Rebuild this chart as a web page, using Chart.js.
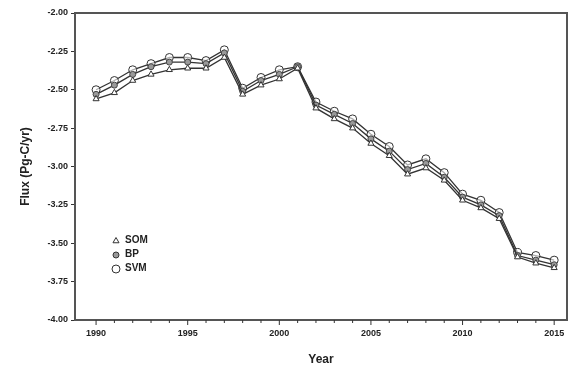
<!DOCTYPE html>
<html>
<head>
<meta charset="utf-8">
<script src="https://cdn.jsdelivr.net/npm/chart.js@4.4.1/dist/chart.umd.min.js"></script>
<style>
  html, body { margin: 0; padding: 0; background: #fff; }
  #wrap { width: 572px; height: 367px; }
</style>
</head>
<body>
<div id="wrap"><canvas id="fluxChart"></canvas></div>
<script>
// data
const years = [1990, 1991, 1992, 1993, 1994, 1995, 1996, 1997, 1998, 1999, 2000, 2001, 2002,
               2003, 2004, 2005, 2006, 2007, 2008, 2009, 2010, 2011, 2012, 2013, 2014, 2015];
const som = [-2.56, -2.52, -2.44, -2.40, -2.37, -2.36, -2.36, -2.29, -2.53, -2.47, -2.43, -2.36, -2.62,
             -2.69, -2.75, -2.85, -2.93, -3.05, -3.01, -3.09, -3.22, -3.27, -3.34, -3.59, -3.63, -3.66];
const bp  = [-2.53, -2.47, -2.40, -2.35, -2.32, -2.32, -2.33, -2.26, -2.51, -2.44, -2.40, -2.35, -2.60,
             -2.66, -2.72, -2.82, -2.90, -3.02, -2.98, -3.07, -3.20, -3.25, -3.32, -3.58, -3.61, -3.64];
const svm = [-2.50, -2.44, -2.37, -2.33, -2.29, -2.29, -2.31, -2.24, -2.49, -2.42, -2.37, -2.35, -2.58,
             -2.64, -2.69, -2.79, -2.87, -2.99, -2.95, -3.04, -3.18, -3.22, -3.30, -3.56, -3.58, -3.61];
const xTicks = [1990, 1995, 2000, 2005, 2010, 2015];
const yTicks = [-4.00, -3.75, -3.50, -3.25, -3.00, -2.75, -2.50, -2.25, -2.00];

const toXY = function(vals) {
    return vals.map(function(v, i) { return { x: years[i], y: v }; });
};

const FONT = "'Liberation Sans', Arial, sans-serif";

// box, minor ticks and in-plot legend
const framePlugin = {
    id: 'frame',
    afterDraw: function(chart) {
        const ctx = chart.ctx;
        const a = chart.chartArea;
        const xs = chart.scales.x;
        ctx.save();
        ctx.strokeStyle = '#555';
        ctx.lineWidth = 2;
        ctx.strokeRect(a.left, a.top, a.right - a.left, a.bottom - a.top);

        // yearly minor ticks
        ctx.lineWidth = 1;
        ctx.strokeStyle = '#333';
        years.forEach(function(yr) {
            const px = xs.getPixelForValue(yr);
            ctx.beginPath();
            ctx.moveTo(px, a.bottom);
            ctx.lineTo(px, a.bottom + (yr % 5 === 0 ? 5 : 3));
            ctx.stroke();
        });

        // legend
        const items = chart.data.datasets;
        let ly = 241;
        items.forEach(function(ds) {
            const lx = 116;
            ctx.lineWidth = 1;
            ctx.strokeStyle = ds.borderColor;
            ctx.fillStyle = ds.pointBackgroundColor;
            Chart.helpers.drawPoint(ctx, {
                pointStyle: ds.pointStyle,
                radius: ds.pointRadius,
                borderWidth: 1
            }, lx, ly);
            ctx.fillStyle = '#222';
            ctx.font = 'bold 10px ' + FONT;
            ctx.textAlign = 'left';
            ctx.textBaseline = 'middle';
            ctx.fillText(ds.label, lx + 9, ly - 1);
            ly += 14;
        });
        ctx.restore();
    }
};

new Chart(document.getElementById('fluxChart'), {
    type: 'line',
    data: {
        datasets: [
            {
                label: 'SOM',
                data: toXY(som),
                borderColor: '#333',
                borderWidth: 1.3,
                pointStyle: 'triangle',
                pointRadius: 3.5,
                pointBackgroundColor: '#fff',
                pointBorderColor: '#333',
                pointBorderWidth: 1
            },
            {
                label: 'BP',
                data: toXY(bp),
                borderColor: '#333',
                borderWidth: 1.3,
                pointStyle: 'circle',
                pointRadius: 3,
                pointBackgroundColor: '#999',
                pointBorderColor: '#444',
                pointBorderWidth: 1
            },
            {
                label: 'SVM',
                data: toXY(svm),
                borderColor: '#333',
                borderWidth: 1.3,
                pointStyle: 'circle',
                pointRadius: 4,
                pointBackgroundColor: 'rgba(255,255,255,0.6)',
                pointBorderColor: '#333',
                pointBorderWidth: 1
            }
        ]
    },
    options: {
        responsive: true,
        maintainAspectRatio: false,
        animation: false,
        layout: { padding: { top: 13, right: 4, left: 0, bottom: 0 } },
        plugins: {
            legend: { display: false },
            tooltip: { enabled: false }
        },
        scales: {
            x: {
                type: 'linear',
                min: 1988.85,
                max: 2015.7,
                afterBuildTicks: function(scale) {
                    scale.ticks = xTicks.map(function(v) { return { value: v }; });
                },
                afterFit: function(scale) { scale.height = 47; },
                grid: { display: false, drawOnChartArea: false },
                border: { display: false },
                ticks: {
                    color: '#222',
                    font: { family: FONT, size: 9, weight: 'bold' },
                    padding: 0,
                    maxRotation: 0,
                    callback: function(v) { return String(v); }
                },
                title: {
                    display: true,
                    text: 'Year',
                    color: '#222',
                    font: { family: FONT, size: 12, weight: 'bold' },
                    padding: { top: 4, bottom: 0 }
                }
            },
            y: {
                type: 'linear',
                min: -4,
                max: -2,
                afterBuildTicks: function(scale) {
                    scale.ticks = yTicks.map(function(v) { return { value: v }; });
                },
                afterFit: function(scale) { scale.width = 75; },
                grid: {
                    drawOnChartArea: false,
                    drawTicks: true,
                    tickLength: 4,
                    color: '#333'
                },
                border: { display: false },
                ticks: {
                    color: '#222',
                    font: { family: FONT, size: 9, weight: 'bold' },
                    padding: 3,
                    callback: function(v) { return v.toFixed(2); }
                },
                title: {
                    display: true,
                    text: 'Flux (Pg-C/yr)',
                    color: '#222',
                    font: { family: FONT, size: 12, weight: 'bold' },
                    padding: { top: 18, bottom: 0 }
                }
            }
        }
    },
    plugins: [framePlugin]
});
</script>
</body>
</html>
